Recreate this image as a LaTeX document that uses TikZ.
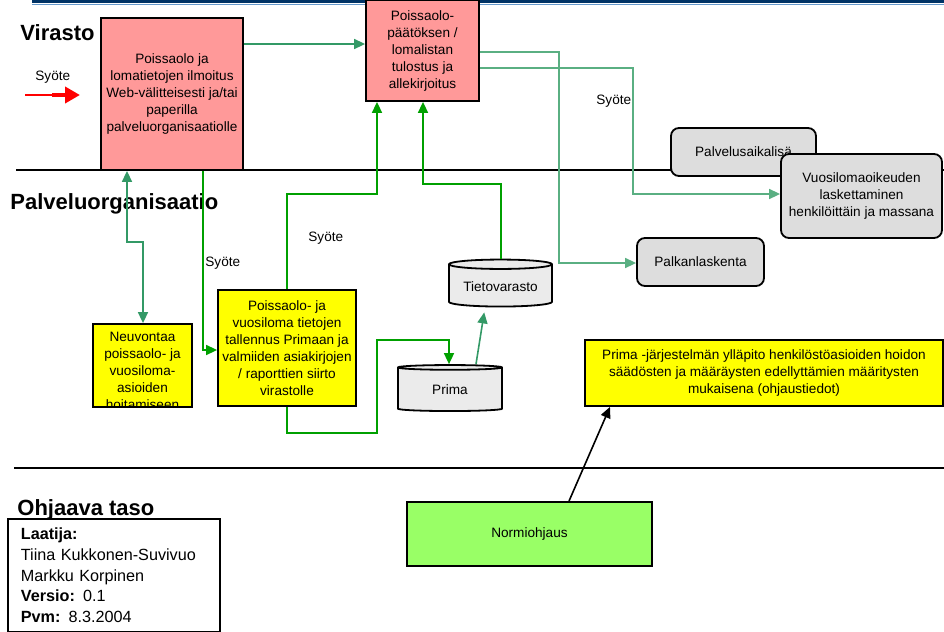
\documentclass[tikz,border=0pt]{standalone}
\usepackage{fontspec}
\setmainfont{Liberation Sans}
\usetikzlibrary{positioning,shapes.geometric,arrows.meta}
\definecolor{mypink}{RGB}{255,153,153}
\definecolor{myyellow}{RGB}{255,255,0}
\definecolor{mygrey}{RGB}{221,221,221}
\definecolor{mylightgrey}{RGB}{235,235,235}
\definecolor{mylime}{RGB}{153,255,102}
\definecolor{myteal}{RGB}{51,153,102}
\definecolor{mygreen}{RGB}{0,160,0}
\definecolor{mypale}{RGB}{90,175,130}
\definecolor{mynavy}{RGB}{0,51,102}
\definecolor{mysky}{RGB}{102,153,204}

\begin{document}
\begin{tikzpicture}[x=0.5pt,y=-0.5pt,
  >={Triangle[length=5.5pt,width=5pt]},
  every node/.style={font=\fontsize{6.8}{8.5}\selectfont},
  procbox/.style={draw,line width=0.9pt,align=center,inner sep=1pt},
  pinkbox/.style={procbox,fill=mypink},
  yellowbox/.style={procbox,fill=myyellow},
  greybox/.style={procbox,fill=mygrey,rounded corners=4pt},
  store/.style={cylinder,shape border rotate=90,aspect=0.12,draw,line width=0.9pt,fill=mylightgrey,inner sep=1pt},
  level/.style={font=\fontsize{11}{12}\selectfont\bfseries,anchor=west,inner sep=0pt},
  tealline/.style={myteal,line width=0.8pt},
  greenline/.style={mygreen,line width=0.8pt},
  paleline/.style={mypale,line width=0.8pt},
  syote/.style={anchor=west,inner sep=0pt}
]
\useasboundingbox (0,0) rectangle (944,632);

% the band at the top
\fill[mynavy] (32,0) rectangle (944,3.2);
\draw[mysky,line width=0.6pt] (32,4.4) -- (944,4.4);

% the level lines
\draw[line width=0.75pt] (16,170) -- (944,170);
\draw[line width=0.75pt] (14,468) -- (944,468);

% the levels
\node[level] (virasto) at (20,33) {Virasto};
\node[level] (palvelu) at (10,204) {Palveluorganisaatio};
\node[level] (ohjaava) at (17,510) {Ohjaava taso};

% Virasto
\node[pinkbox,minimum width=71pt,minimum height=76pt] (ilmoitus) at (172,94) {Poissaolo ja\\lomatietojen ilmoitus\\Web-välitteisesti ja/tai\\paperilla\\palveluorganisaatiolle};
\node[pinkbox,minimum width=56.5pt,minimum height=50.5pt] (tulostus) at (422.5,50.5) {Poissaolo-\\päätöksen /\\lomalistan\\tulostus ja\\allekirjoitus};

% the grey boxes
\node[greybox,minimum width=72.5pt,minimum height=24pt] (palvelusaika) at (743.5,152) {Palvelusaikalisä};
\node[greybox,minimum width=80.5pt,minimum height=42pt] (vuosiloma) at (861.5,196) {Vuosilomaoikeuden\\laskettaminen\\henkilöittäin ja massana};
\node[greybox,minimum width=63.5pt,minimum height=24pt] (palkka) at (700.5,262) {Palkanlaskenta};

% Palveluorganisaatio
\node[yellowbox,minimum width=49.5pt,minimum height=41.5pt] (neuvonta) at (142.5,365.5) {};
\begin{scope}
  \clip ([shift={(0.5pt,0.5pt)}]neuvonta.south west) rectangle ([shift={(-0.5pt,-0.5pt)}]neuvonta.north east);
  \node[align=center] (neuvontateksti) at ([yshift=-2.5pt]neuvonta.center) {Neuvontaa\\poissaolo- ja\\vuosiloma-\\asioiden\\hoitamiseen};
\end{scope}
\node[yellowbox,minimum width=69pt,minimum height=58pt] (tallennus) at (287,348) {Poissaolo- ja\\vuosiloma tietojen\\tallennus Primaan ja\\valmiiden asiakirjojen\\/ raporttien siirto\\virastolle};
\node[store,minimum width=51.5pt,minimum height=23.5pt] (tietovarasto) at (500.5,286.5) {Tietovarasto};
\node[store,minimum width=52pt,minimum height=23pt] (prima) at (450,390) {Prima};
\node[yellowbox,minimum width=179pt,minimum height=33pt] (yllapito) at (764,373) {Prima -järjestelmän ylläpito henkilöstöasioiden hoidon\\säädösten ja määräysten edellyttämien määritysten\\mukaisena (ohjaustiedot)};

% Ohjaava taso
\node[procbox,fill=mylime,minimum width=122.5pt,minimum height=32pt] (normi) at (529.5,534) {Normiohjaus};

% the inputs
\node[syote] (syote1) at (35,77) {Syöte};
\node[syote] (syote2) at (205,263) {Syöte};
\node[syote] (syote3) at (308,238) {Syöte};
\node[syote] (syote4) at (596,101) {Syöte};
\coordinate (redstart) at (25,95);
\coordinate (redjoint) at (52,95);
\coordinate (redtip) at (80,95);
\draw[red,line width=0.9pt] (redstart) -- (redjoint);
\draw[red,line width=2.2pt,-{Triangle[length=7.5pt,width=8pt]}] (redjoint) -- (redtip);

% the connectors
\draw[tealline,->] (ilmoitus.east |- 0,44) -- (tulostus.west |- 0,44);
\draw[tealline,<->] (127,0 |- ilmoitus.south) -- (127,242) -- (143,242) -- (143,0 |- neuvonta.north);
\draw[greenline,->] (203,0 |- ilmoitus.south) -- (203,350) -- (tallennus.west |- 0,350);
\draw[greenline,->] (287,0 |- tallennus.north) -- (287,194) -- (377,194) -- (377,0 |- tulostus.south);
\draw[greenline,->] (501,0 |- tietovarasto.north) -- (501,184) -- (423,184) -- (423,0 |- tulostus.south);
\draw[paleline,->] (tulostus.east |- 0,52) -- (559,52) -- (559,263) -- (palkka.west |- 0,263);
\draw[paleline,->] (tulostus.east |- 0,68) -- (633,68) -- (633,194) -- (vuosiloma.west |- 0,194);
\draw[greenline,->] (287,0 |- tallennus.south) -- (287,433) -- (377,433) -- (377,340) -- (449,340) -- (449,0 |- prima.north);
\draw[tealline,->,shorten >=2.5pt] (476,0 |- prima.north) -- (485,0 |- tietovarasto.south);
\draw[line width=0.8pt,->] (569,0 |- normi.north) -- (610,0 |- yllapito.south);

% the author box
\node[draw,line width=0.9pt,fill=white,anchor=north west,inner xsep=6.5pt,text width=93pt,minimum height=56.5pt,align=left,font=\fontsize{8.1}{10.3}\selectfont] (laatija) at (7,518) {\textbf{Laatija:}\\Tiina Kukkonen-Suvivuo\\Markku Korpinen\\\textbf{Versio:} 0.1\\\textbf{Pvm:} 8.3.2004};
\end{tikzpicture}
\end{document}
